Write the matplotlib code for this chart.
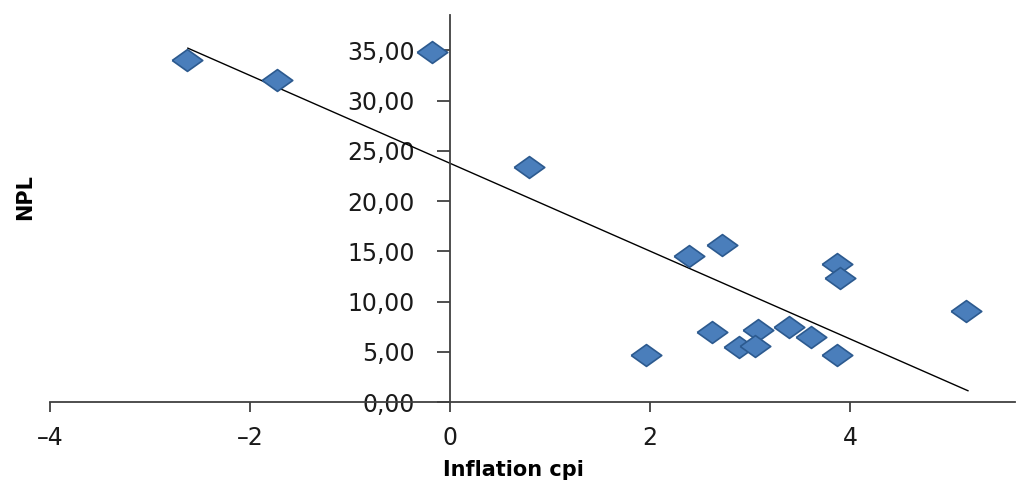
import numpy as np
import matplotlib
matplotlib.use("Agg")
import matplotlib.pyplot as plt
from matplotlib.ticker import FuncFormatter

# data
inflation = [-2.63, -1.73, -0.18, 0.79, 2.39, 2.72, 1.96, 2.62, 3.08, 2.89,
             3.05, 3.39, 3.61, 3.87, 3.87, 3.90, 5.16]
npl = [34.0, 32.0, 34.8, 23.4, 14.5, 15.6, 4.7, 7.0, 7.2, 5.5,
       5.6, 7.5, 6.5, 4.7, 13.7, 12.3, 9.1]
# linear trendline (as drawn in the reference)
trend_slope = -4.37
trend_intercept = 23.76
trend_x = [-2.62, 5.18]

x_ticks = [-4, -2, 0, 2, 4]
y_ticks = [0, 5, 10, 15, 20, 25, 30, 35]

fig = plt.figure(figsize=(10.17, 4.87), dpi=100)
ax = fig.add_axes([0.049, 0.1745, 0.949, 0.7945])

# wider-than-tall diamond, like the Excel marker in the picture
diamond = [(-0.7, 0), (0, 0.5), (0.7, 0), (0, -0.5), (-0.7, 0)]
ax.plot(inflation, npl, linestyle="none", marker=diamond, markersize=22,
        markerfacecolor="#4a7ebb", markeredgecolor="#2c5a8f", markeredgewidth=1.2,
        zorder=3)

tx = np.array(trend_x)
ax.plot(tx, trend_intercept + trend_slope * tx, color="black", linewidth=1.0, zorder=2)

ax.set_xlim(-4, 5.65)
ax.set_ylim(0, 38.5)
ax.set_xticks(x_ticks)
ax.set_yticks(y_ticks)
ax.yaxis.set_major_formatter(FuncFormatter(lambda v, p: f"{v:.2f}".replace(".", ",")))
ax.xaxis.set_major_formatter(FuncFormatter(lambda v, p: f"{v:g}".replace("-", "\u2013")))

ax.spines["top"].set_visible(False)
ax.spines["right"].set_visible(False)
ax.spines["left"].set_position(("data", 0))
for s in ("left", "bottom"):
    ax.spines[s].set_color("#404040")
    ax.spines[s].set_linewidth(1.3)

ax.tick_params(axis="both", direction="out", width=1.3, color="#404040",
               labelsize=17, labelcolor="#1a1a1a")
ax.tick_params(axis="x", pad=10, length=7)
ax.tick_params(axis="y", pad=16, length=9.5)

fig.text(0.025, 0.595, "NPL", rotation=90, fontsize=15, fontweight="bold",
         ha="center", va="center")
fig.text(0.505, 0.035, "Inflation cpi", fontsize=15, fontweight="bold",
         ha="center", va="center")

fig.savefig("out.png", dpi=100)
